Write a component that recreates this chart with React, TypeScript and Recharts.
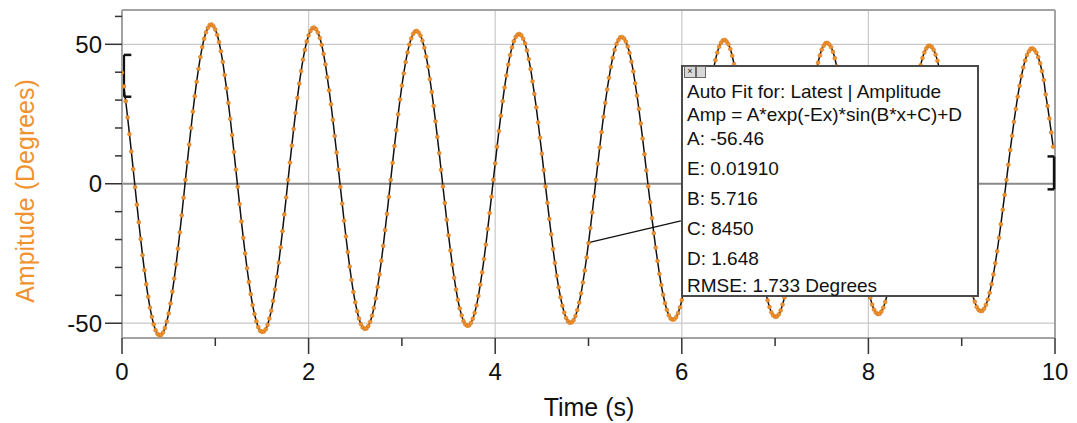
import React from "react";
import {
  ComposedChart, Line, XAxis, YAxis, CartesianGrid, ReferenceLine,
} from "recharts";

const SAMPLE_STEP = 0.02; // seconds between logged points

const amplitude = [
  // 0.00 – 1.08 s
  39.8, 34.9, 29.6, 23.8, 17.8, 11.6, 5.2, -1.2, -7.5, -13.8,
  -19.8, -25.6, -31.0, -36.0, -40.5, -44.4, -47.7, -50.4, -52.5, -53.8,
  -54.3, -54.2, -53.3, -51.7, -49.4, -46.5, -42.9, -38.7, -34.0, -28.9,
  -23.3, -17.4, -11.3, -5.0, 1.4, 7.7, 14.0, 20.0, 25.9, 31.4,
  36.6, 41.2, 45.4, 49.0, 52.0, 54.3, 55.9, 56.9, 57.1, 56.5,
  55.3, 53.4, 50.8, 47.5, 43.7,
  // 1.10 – 2.18 s
  39.0, 34.2, 29.0, 23.3, 17.5, 11.4, 5.1, -1.1, -7.3, -13.5,
  -19.4, -25.0, -30.3, -35.2, -39.6, -43.5, -46.7, -49.3, -51.4, -52.7,
  -53.1, -53.0, -52.2, -50.6, -48.3, -45.5, -42.0, -37.9, -33.3, -28.3,
  -22.8, -17.0, -11.0, -4.9, 1.4, 7.6, 13.7, 19.6, 25.4, 30.8,
  35.9, 40.4, 44.5, 48.0, 51.0, 53.2, 54.8, 55.8, 56.0, 55.4,
  54.2, 52.3, 49.8, 46.6, 42.8,
  // 2.20 – 3.28 s
  38.2, 33.5, 28.5, 22.9, 17.1, 11.2, 5.1, -1.1, -7.1, -13.2,
  -18.9, -24.5, -29.7, -34.5, -38.8, -42.5, -45.7, -48.3, -50.3, -51.5,
  -52.0, -51.9, -51.0, -49.5, -47.3, -44.5, -41.1, -37.0, -32.5, -27.6,
  -22.3, -16.6, -10.8, -4.7, 1.4, 7.5, 13.5, 19.2, 24.9, 30.2,
  35.2, 39.6, 43.6, 47.1, 49.9, 52.1, 53.7, 54.6, 54.8, 54.2,
  53.1, 51.3, 48.8, 45.6, 42.0,
  // 3.30 – 4.38 s
  37.5, 32.9, 27.9, 22.4, 16.8, 11.0, 5.0, -1.0, -6.9, -12.9,
  -18.5, -23.9, -29.0, -33.7, -37.9, -41.6, -44.7, -47.2, -49.2, -50.4,
  -50.9, -50.8, -49.9, -48.4, -46.3, -43.6, -40.2, -36.2, -31.8, -27.0,
  -21.8, -16.2, -10.5, -4.6, 1.4, 7.3, 13.3, 18.9, 24.4, 29.6,
  34.5, 38.8, 42.7, 46.1, 48.9, 51.1, 52.6, 53.5, 53.7, 53.2,
  52.0, 50.3, 47.8, 44.7, 41.1,
  // 4.40 – 5.48 s
  36.7, 32.2, 27.4, 22.0, 16.5, 10.8, 4.9, -1.0, -6.8, -12.6,
  -18.1, -23.4, -28.4, -33.0, -37.1, -40.7, -43.7, -46.2, -48.1, -49.3,
  -49.8, -49.7, -48.9, -47.4, -45.3, -42.6, -39.3, -35.4, -31.1, -26.4,
  -21.3, -15.9, -10.3, -4.5, 1.4, 7.2, 13.0, 18.5, 24.0, 29.0,
  33.8, 38.0, 41.9, 45.2, 48.0, 50.1, 51.5, 52.5, 52.6, 52.1,
  51.0, 49.2, 46.9, 43.8, 40.3,
  // 5.50 – 6.58 s
  36.0, 31.6, 26.8, 21.6, 16.2, 10.6, 4.8, -0.9, -6.6, -12.3,
  -17.7, -22.9, -27.7, -32.3, -36.3, -39.8, -42.8, -45.2, -47.1, -48.3,
  -48.7, -48.6, -47.8, -46.4, -44.3, -41.7, -38.5, -34.7, -30.4, -25.9,
  -20.8, -15.5, -10.0, -4.3, 1.4, 7.1, 12.8, 18.2, 23.5, 28.4,
  33.1, 37.3, 41.0, 44.3, 47.0, 49.1, 50.5, 51.4, 51.6, 51.0,
  50.0, 48.3, 45.9, 42.9, 39.5,
  // 6.60 – 7.68 s
  35.3, 31.0, 26.3, 21.2, 15.9, 10.4, 4.8, -0.9, -6.4, -12.0,
  -17.3, -22.4, -27.1, -31.5, -35.5, -38.9, -41.8, -44.2, -46.1, -47.2,
  -47.7, -47.6, -46.8, -45.4, -43.3, -40.8, -37.6, -33.9, -29.8, -25.3,
  -20.3, -15.1, -9.8, -4.2, 1.4, 7.0, 12.5, 17.8, 23.0, 27.9,
  32.5, 36.5, 40.2, 43.4, 46.0, 48.1, 49.5, 50.4, 50.5, 50.0,
  49.0, 47.3, 45.0, 42.1, 38.7,
  // 7.70 – 8.78 s
  34.6, 30.4, 25.8, 20.8, 15.6, 10.2, 4.7, -0.8, -6.2, -11.7,
  -16.9, -21.9, -26.5, -30.9, -34.7, -38.1, -40.9, -43.3, -45.1, -46.2,
  -46.7, -46.6, -45.8, -44.4, -42.4, -39.9, -36.8, -33.2, -29.1, -24.7,
  -19.9, -14.8, -9.5, -4.1, 1.4, 6.9, 12.3, 17.5, 22.6, 27.3,
  31.8, 35.8, 39.4, 42.5, 45.1, 47.1, 48.5, 49.4, 49.5, 49.0,
  48.0, 46.3, 44.1, 41.2, 38.0,
  // 8.80 – 9.88 s
  33.9, 29.8, 25.3, 20.4, 15.3, 10.1, 4.7, -0.8, -6.1, -11.4,
  -16.5, -21.4, -26.0, -30.2, -34.0, -37.3, -40.1, -42.3, -44.1, -45.2,
  -45.6, -45.6, -44.8, -43.4, -41.5, -39.1, -36.0, -32.5, -28.5, -24.2,
  -19.4, -14.5, -9.3, -4.0, 1.4, 6.8, 12.1, 17.2, 22.2, 26.8,
  31.2, 35.1, 38.6, 41.7, 44.2, 46.2, 47.5, 48.4, 48.5, 48.0,
  47.0, 45.4, 43.2, 40.4, 37.2,
  // 9.90 – 9.98 s
  32.0, 27.9, 23.4, 18.4, 13.3,
];

const timeTicks = [0, 1, 2, 3, 4, 5, 6, 7, 8, 9, 10];
const ampTicks = [-50, -40, -30, -20, -10, 0, 10, 20, 30, 40, 50, 60];

const fitText = [
  "Auto Fit for: Latest | Amplitude",
  "Amp = A*exp(-Ex)*sin(B*x+C)+D",
  "A: -56.46",
  "E: 0.01910",
  "B: 5.716",
  "C: 8450",
  "D: 1.648",
  "RMSE: 1.733 Degrees",
];

const data = amplitude.map((a, i) => ({ t: +(i * SAMPLE_STEP).toFixed(2), amp: a }));

/* ─── Styles ─────────────────────────────────────────────────────────────── */
const FONT = "'Liberation Sans', Arial, sans-serif";
const ORANGE = "#f0922e";
const FRAME = "#a3a3a3";
const FIT_LINE_Y = [25, 48, 72, 102, 132, 162, 192, 219];

/* ─── Custom ticks ───────────────────────────────────────────────────────── */
function TimeTick({ x, y, payload }: any) {
  const major = payload.value % 2 === 0;
  return (
    <g>
      <line x1={x} x2={x} y1={y} y2={y + (major ? 16 : 8)} stroke="#333" strokeWidth={1.5} />
      {major && (
        <text x={x} y={y + 42} textAnchor="middle" fontSize={24} fill="#111" fontFamily={FONT}>
          {payload.value}
        </text>
      )}
    </g>
  );
}

function AmpTick({ x, y, payload }: any) {
  const major = payload.value % 50 === 0;
  return (
    <g>
      <line x1={x - (major ? 17 : 7)} x2={x} y1={y} y2={y} stroke="#333" strokeWidth={1.5} />
      {major && (
        <text x={x - 20} y={y} dy="0.36em" textAnchor="end" fontSize={24} fill="#111" fontFamily={FONT}>
          {payload.value}
        </text>
      )}
    </g>
  );
}

const bracket = { stroke: "#111", strokeWidth: 2.5, ifOverflow: "visible" as const };

export default function App() {
  return (
    <div style={{ position: "relative", width: 1077, height: 423, background: "#fff", fontFamily: FONT }}>
      <style>{`body{margin:0;background:#fff}`}</style>
      <ComposedChart
        width={1077}
        height={423}
        data={data}
        margin={{ top: 10, right: 22, bottom: 0, left: 0 }}
      >
        <CartesianGrid
          horizontal
          vertical
          horizontalValues={[50, -50]}
          verticalValues={[2, 4, 6, 8]}
          stroke="#c9c9c9"
          strokeWidth={1.2}
        />
        <XAxis
          dataKey="t"
          type="number"
          domain={[0, 10]}
          ticks={timeTicks}
          interval={0}
          height={85}
          tickSize={0}
          tickMargin={0}
          tickLine={false}
          tick={<TimeTick />}
          axisLine={{ stroke: FRAME, strokeWidth: 2 }}
          allowDataOverflow
        />
        <YAxis
          type="number"
          domain={[-55.3, 62.3]}
          ticks={ampTicks}
          interval={0}
          width={122}
          tickSize={0}
          tickMargin={0}
          tickLine={false}
          tick={<AmpTick />}
          axisLine={{ stroke: FRAME, strokeWidth: 2 }}
          allowDataOverflow
        />
        <ReferenceLine y={0} stroke="#8a8a8a" strokeWidth={2} />
        <ReferenceLine y={62.3} stroke={FRAME} strokeWidth={2} />
        <ReferenceLine x={10} stroke={FRAME} strokeWidth={2} />

        {/* logged points */}
        <Line
          dataKey="amp"
          stroke="none"
          isAnimationActive={false}
          dot={{ r: 1.9, fill: ORANGE, stroke: "#d07318", strokeWidth: 0.6 }}
          activeDot={false}
        />
        {/* fitted curve */}
        <Line
          dataKey="amp"
          type="monotone"
          stroke="#111"
          strokeWidth={1.5}
          dot={false}
          activeDot={false}
          isAnimationActive={false}
        />

        {/* fit range brackets */}
        <ReferenceLine segment={[{ x: 0.02, y: 46.2 }, { x: 0.02, y: 31.2 }]} {...bracket} />
        <ReferenceLine segment={[{ x: 0.02, y: 46.2 }, { x: 0.1, y: 46.2 }]} {...bracket} />
        <ReferenceLine segment={[{ x: 0.02, y: 31.2 }, { x: 0.1, y: 31.2 }]} {...bracket} />
        <ReferenceLine segment={[{ x: 9.99, y: 9.8 }, { x: 9.99, y: -2.0 }]} {...bracket} />
        <ReferenceLine segment={[{ x: 9.92, y: 9.8 }, { x: 9.99, y: 9.8 }]} {...bracket} />
        <ReferenceLine segment={[{ x: 9.92, y: -2.0 }, { x: 9.99, y: -2.0 }]} {...bracket} />

        {/* callout connector */}
        <ReferenceLine
          segment={[{ x: 5.0, y: -21.1 }, { x: 5.99, y: -13.3 }]}
          stroke="#111"
          strokeWidth={1.3}
          ifOverflow="visible"
        />
      </ComposedChart>

      {/* Y axis title */}
      <div style={{
        position: "absolute", left: 25 - 160, top: 191 - 16, width: 320, height: 32,
        lineHeight: "32px", textAlign: "center", transform: "rotate(-90deg)",
        fontSize: 25, color: ORANGE, whiteSpace: "nowrap",
      }}>
        Ampitude (Degrees)
      </div>

      {/* X axis title */}
      <div style={{
        position: "absolute", left: 589 - 100, top: 392, width: 200, textAlign: "center",
        fontSize: 25, color: "#111", lineHeight: "30px",
      }}>
        Time (s)
      </div>

      {/* Auto fit annotation */}
      <div style={{
        position: "absolute", left: 681, top: 65, width: 298, height: 232,
        boxSizing: "border-box", border: "2px solid #4a4a4a", background: "#fff",
      }}>
        <div style={{ position: "absolute", left: 1, top: -1, width: 10, height: 10, border: "1px solid #666", background: "#d8d8d8", fontSize: 9, lineHeight: "9px", textAlign: "center", color: "#222" }}>×</div>
        <div style={{ position: "absolute", left: 13, top: -1, width: 8, height: 10, border: "1px solid #666", background: "#d8d8d8" }} />
        {fitText.map((s, i) => (
          <div key={s} style={{
            position: "absolute", left: 4, top: FIT_LINE_Y[i] - 11, height: 22,
            lineHeight: "22px", fontSize: 19, color: "#111", whiteSpace: "nowrap",
          }}>
            {s}
          </div>
        ))}
      </div>
    </div>
  );
}
